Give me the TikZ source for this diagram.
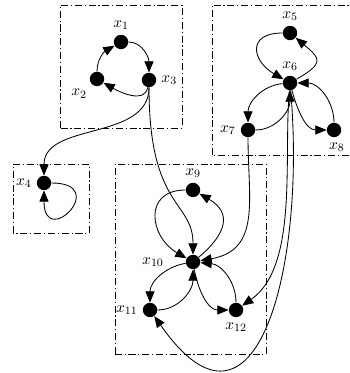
\documentclass[tikz,border=0pt]{standalone}
\usetikzlibrary{arrows.meta}

\begin{document}
\begin{tikzpicture}[
    x=0.025cm, y=0.025cm,
    every label/.style={font=\fontsize{11}{13}\selectfont},
    vert/.style={circle, fill=black, minimum size=0.36cm, inner sep=0pt},
    grp/.style={line width=0.4pt, dash pattern=on 5pt off 2pt on 0.8pt off 2pt},
    link/.style={->, line width=0.6pt},
    >={Triangle[length=8pt,width=6.5pt]},
  ]
  \useasboundingbox (0,0) rectangle (349,373);

  % groups
  \draw[grp] (60,245) rectangle (182,368);
  \draw[grp] (212,218) rectangle (351,368);
  \draw[grp] (13,140) rectangle (89,209);
  \draw[grp] (115,19) rectangle (266,209);

  % vertices
  \node[vert, label=above:$x_1$] (x1) at (121,331) {};
  \node[vert, label=below left:$x_2$] (x2) at (97,294) {};
  \node[vert, label=right:$x_3$] (x3) at (149,293) {};
  \node[vert, label=left:$x_4$] (x4) at (44,190) {};
  \node[vert, label=above:$x_5$] (x5) at (290,340) {};
  \node[vert, label=above:$x_6$] (x6) at (290,290) {};
  \node[vert, label=left:$x_7$] (x7) at (248,243) {};
  \node[vert, label={[xshift=2pt]below:$x_8$}] (x8) at (334,243) {};
  \node[vert, label=above:$x_9$] (x9) at (193,183) {};
  \node[vert, label={[label distance=12pt]left:$x_{10}$}] (x10) at (193,111) {};
  \node[vert, label=left:$x_{11}$] (x11) at (150,63) {};
  \node[vert, label=below:$x_{12}$] (x12) at (236,63) {};

  % first group
  \draw[link] (x2) to[out=90,in=210] (x1);
  \draw[link] (x1) to[out=0,in=90] (x3);
  \draw[link] (x3) to[out=-100,in=-30] (x2);
  \draw[link] (x3) to[out=-90,in=90] (x4);
  \draw[link] (x4) to[out=0,in=-90,min distance=1.5cm] (x4);
  \draw[link] (x3) to[out=-90,in=90,out looseness=1.8,in looseness=0.8] (x10);

  % second group
  \draw[link] (x5) to[out=180,in=150,looseness=2] (x6);
  \draw[link] (x6) to[out=30,in=-40,looseness=2] (x5);
  \draw[link] (x6) to[out=185,in=90] (x7);
  \draw[link] (x7) to[out=0,in=-90] (x6);
  \draw[link] (x6) to[out=-75,in=180] (x8);
  \draw[link] (x8) to[out=90,in=0] (x6);
  \draw[link] (x6) to[out=-95,in=35,looseness=0.8] (x12);
  \draw[link] (x6) to[out=-85,in=-55,looseness=1.72] (x11);
  \draw[link] (x7) to[out=-90,in=10,looseness=1.2] (x10);

  % third group
  \draw[link] (x9) to[out=180,in=150,looseness=1.6] (x10);
  \draw[link] (x10) to[out=40,in=-30,looseness=1.5] (x9);
  \draw[link] (x10) to[out=190,in=90] (x11);
  \draw[link] (x11) to[out=0,in=-90] (x10);
  \draw[link] (x10) to[out=-80,in=180] (x12);
  \draw[link] (x12) to[out=90,in=-5] (x10);
\end{tikzpicture}
\end{document}
